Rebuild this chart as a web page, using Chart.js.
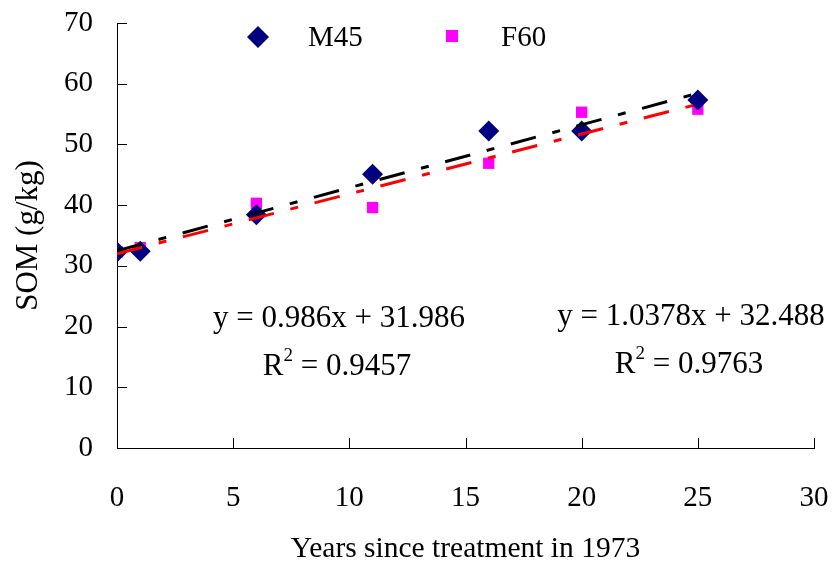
<!DOCTYPE html>
<html><head><meta charset="utf-8">
<script src="https://cdn.jsdelivr.net/npm/chart.js@4/dist/chart.umd.min.js"></script>
<style>html,body{margin:0;padding:0;background:#fff}#wrap{width:836px;height:571px;position:relative}</style>
</head><body><div id="wrap"><canvas id="c" width="836" height="571"></canvas></div>
<script>
// ---- data ----
const years = [0, 1, 6, 11, 16, 20, 25];
const m45 = [32.3, 32.4, 38.4, 45.1, 52.2, 52.2, 57.3];
const f60 = [32.3, 33.0, 40.3, 39.6, 46.9, 55.3, 55.8];
const seriesNames = ['M45', 'F60'];
const trendSlope = [1.0378, 0.986];
const trendIntercept = [32.488, 31.986];
const trendR2 = ['0.9763', '0.9457'];
const trendRange = [0, 25];
const xTicks = [0, 5, 10, 15, 20, 25, 30];
const yTicks = [0, 10, 20, 30, 40, 50, 60, 70];
const xTitle = 'Years since treatment in 1973';
const yTitle = 'SOM (g/kg)';

const FONT = "'Liberation Serif', 'Times New Roman', serif";
const colors = { m45: '#000080', f60: '#FF00FF', m45Trend: '#000000', f60Trend: '#FF0000' };

const pts = (xs, ys) => xs.map((x, i) => ({ x: x, y: ys[i] }));
const trend = (k) => trendRange.map(x => ({ x: x, y: trendSlope[k] * x + trendIntercept[k] }));

// inward tick marks, drawn from the library's scales
const inwardTicks = {
  id: 'inwardTicks',
  afterDraw(chart) {
    const ctx = chart.ctx, xs = chart.scales.x, ys = chart.scales.y, a = chart.chartArea;
    ctx.save();
    ctx.strokeStyle = '#000'; ctx.lineWidth = 1;
    ctx.beginPath();
    yTicks.forEach(v => {
      const py = Math.round(ys.getPixelForValue(v)) + 0.5;
      ctx.moveTo(a.left, py); ctx.lineTo(a.left + 10, py);
    });
    xTicks.forEach(v => {
      const px = Math.round(xs.getPixelForValue(v)) + 0.5;
      ctx.moveTo(px, a.bottom); ctx.lineTo(px, a.bottom - 10);
    });
    ctx.stroke();
    ctx.restore();
  }
};

// regression labels + legend
const labelsPlugin = {
  id: 'labelsPlugin',
  afterDraw(chart) {
    const ctx = chart.ctx;
    ctx.save();
    ctx.fillStyle = '#000';
    ctx.textBaseline = 'alphabetic';
    const f = (s) => `${s}px ${FONT}`;
    function eqBlock(k, cx1, by1, cx2, by2) {
      ctx.font = f(31);
      ctx.textAlign = 'center';
      ctx.fillText(`y = ${trendSlope[k]}x + ${trendIntercept[k]}`, cx1, by1);
      ctx.textAlign = 'left';
      const wR = ctx.measureText('R').width;
      const rest = ' = ' + trendR2[k];
      const wRest = ctx.measureText(rest).width;
      ctx.font = f(19);
      const w2 = ctx.measureText('2').width;
      const total = wR + w2 + wRest;
      let x = cx2 - total / 2;
      ctx.font = f(31);
      ctx.fillText('R', x, by2);
      ctx.font = f(19);
      ctx.fillText('2', x + wR, by2 - 14);
      ctx.font = f(31);
      ctx.fillText(rest, x + wR + w2, by2);
    }
    eqBlock(1, 339, 327, 337, 375);
    eqBlock(0, 691, 325, 689, 373);

    // legend
    const ds = chart.data.datasets;
    ctx.font = f(29);
    ctx.textAlign = 'left';
    ctx.fillStyle = ds[0].backgroundColor;
    ctx.beginPath();
    ctx.moveTo(258 - 11, 37); ctx.lineTo(258, 37 - 11); ctx.lineTo(258 + 11, 37); ctx.lineTo(258, 37 + 11);
    ctx.closePath(); ctx.fill();
    ctx.fillStyle = '#000';
    ctx.fillText(ds[0].label, 308, 46);
    ctx.fillStyle = ds[1].backgroundColor;
    ctx.fillRect(452 - 6, 36 - 6, 12, 12);
    ctx.fillStyle = '#000';
    ctx.fillText(ds[1].label, 501, 46);
    ctx.restore();
  }
};

new Chart(document.getElementById('c'), {
  type: 'scatter',
  data: {
    datasets: [
      { label: seriesNames[0], data: pts(years, m45), pointStyle: 'rectRot', pointRadius: 10.5,
        backgroundColor: colors.m45, borderWidth: 0, order: 2 },
      { label: seriesNames[1], data: pts(years, f60), pointStyle: 'rect', pointRadius: 8,
        backgroundColor: colors.f60, borderWidth: 0, order: 2 },
      { type: 'line', label: 'M45 trend', data: trend(0), borderColor: colors.m45Trend, borderWidth: 3,
        borderDash: [26, 17, 8, 17], pointRadius: 0, fill: false, order: 1 },
      { type: 'line', label: 'F60 trend', data: trend(1), borderColor: colors.f60Trend, borderWidth: 3,
        borderDash: [26, 17, 8, 17], pointRadius: 0, fill: false, order: 0 }
    ]
  },
  options: {
    responsive: false,
    animation: false,
    events: [],
    layout: { padding: { top: 23, right: 22, left: 0, bottom: 0 } },
    plugins: { legend: { display: false }, tooltip: { enabled: false } },
    scales: {
      x: {
        type: 'linear', min: 0, max: 30,
        afterBuildTicks: (s) => { s.ticks = xTicks.map(v => ({ value: v })); },
        afterFit: (s) => { s.height = 123; s.paddingLeft = 0; s.paddingRight = 0; },
        grid: { display: false, drawTicks: false },
        border: { display: true, color: '#000', width: 1 },
        ticks: { color: '#000', font: { family: FONT, size: 29 }, padding: 33, maxRotation: 0 },
        title: { display: true, text: xTitle, color: '#000', font: { family: FONT, size: 29.5 }, padding: { top: 0, bottom: 4 } }
      },
      y: {
        type: 'linear', min: 0, max: 70,
        afterBuildTicks: (s) => { s.ticks = yTicks.map(v => ({ value: v })); },
        afterFit: (s) => { s.width = 117; s.paddingTop = 0; s.paddingBottom = 0; },
        grid: { display: false, drawTicks: false },
        border: { display: true, color: '#000', width: 1 },
        ticks: { color: '#000', font: { family: FONT, size: 29 }, padding: 24 },
        title: { display: true, text: yTitle, color: '#000', font: { family: FONT, size: 31 }, padding: { top: 10, bottom: 0 } }
      }
    }
  },
  plugins: [inwardTicks, labelsPlugin]
});
</script></body></html>
